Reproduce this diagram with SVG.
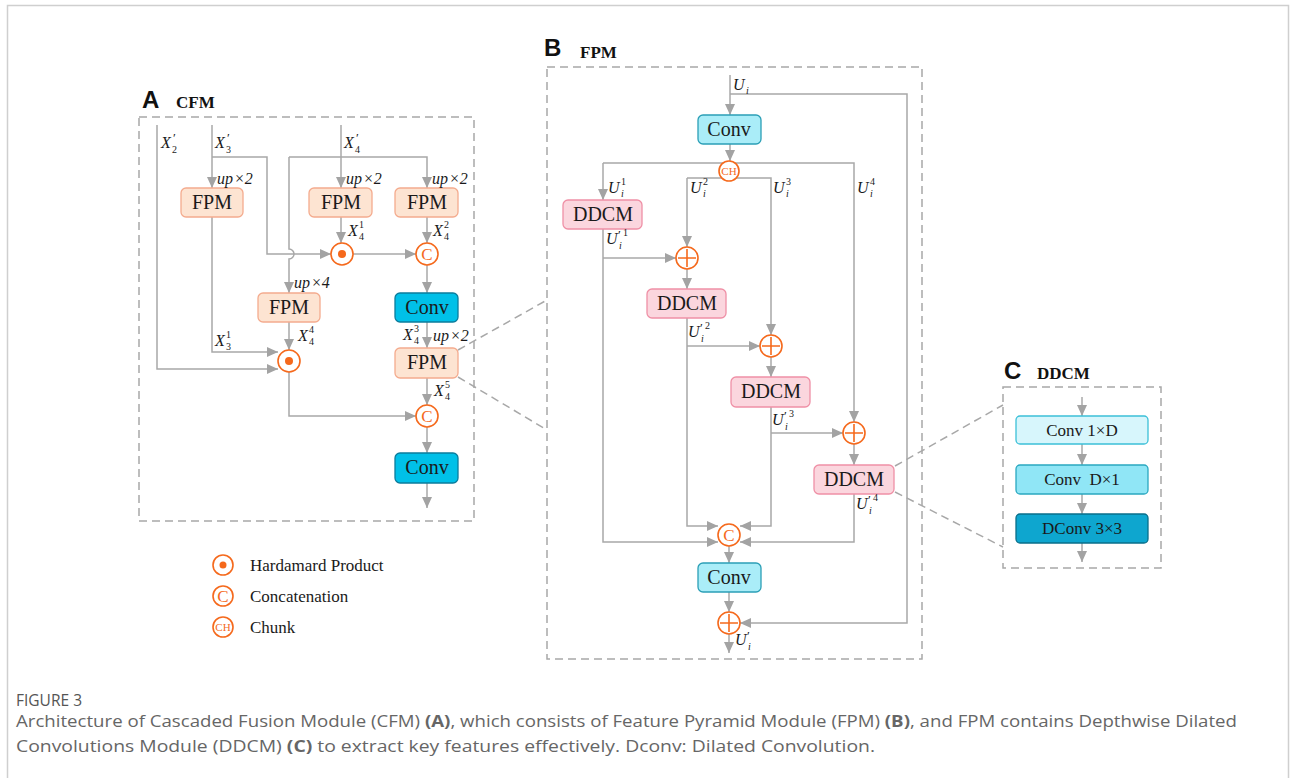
<svg xmlns="http://www.w3.org/2000/svg" width="1293" height="778" viewBox="0 0 1293 778">
<defs>
<marker id="ar" markerUnits="userSpaceOnUse" markerWidth="11" markerHeight="10" refX="11" refY="5" orient="auto"><path d="M0,0 L11,5 L0,10 z" fill="#a3a3a3"/></marker>
<style>
.ln{fill:none;stroke:#a8a8a8;stroke-width:1.5}
.a{marker-end:url(#ar)}
.dash{fill:none;stroke:#a8a8a8;stroke-width:1.5;stroke-dasharray:8 5}
.fpm{fill:#fde4d2;stroke:#f4ab8e;stroke-width:1.3}
.convA{fill:#00c0e8;stroke:#0b7c9c;stroke-width:1.3}
.convB{fill:#aaedf8;stroke:#2b9fb6;stroke-width:1.3}
.ddcm{fill:#fbd6de;stroke:#ef90a6;stroke-width:1.3}
.c1{fill:#d7f6fc;stroke:#3cc0d8;stroke-width:1.3}
.c2{fill:#90e6f6;stroke:#2aa8c0;stroke-width:1.3}
.c3{fill:#0ea6cf;stroke:#0a6f8a;stroke-width:1.3}
.op{fill:#fff;stroke:#f5691c;stroke-width:1.6}
.opl{stroke:#f5691c;stroke-width:1.6}
.t{font-family:"Liberation Serif",serif;font-size:20px;fill:#1a1a1a;text-anchor:middle}
.tc{font-family:"Liberation Serif",serif;font-size:17px;fill:#1a1a1a;text-anchor:middle}
.m{font-family:"Liberation Serif",serif;font-size:16px;font-style:italic;fill:#1a1a1a}
.s{font-size:10px;font-style:normal}
.si{font-size:10px;font-style:italic}
.p{font-size:13px;font-style:normal}
.u{font-family:"Liberation Serif",serif;font-size:16px;fill:#1a1a1a}
.oc{font-family:"Liberation Serif",serif;font-size:17px;fill:#f5691c;text-anchor:middle}
.och{font-family:"Liberation Serif",serif;font-size:11px;fill:#f5691c;text-anchor:middle}
.big{font-family:"Liberation Sans",sans-serif;font-weight:bold;font-size:24px;fill:#111}
.ttl{font-family:"Liberation Serif",serif;font-weight:bold;font-size:17px;fill:#111}
.leg{font-family:"Liberation Serif",serif;font-size:17px;fill:#1a1a1a}
.cap{font-family:"Open Sans",sans-serif;font-size:15.5px;fill:#666}
</style>
</defs>
<rect x="7.5" y="5.5" width="1281" height="800" fill="#fff" stroke="#cfcfcf" stroke-width="1.5"/>

<g id="panelA">
<text class="big" x="142" y="108">A</text>
<text class="ttl" x="176" y="108">CFM</text>
<rect class="dash" x="139" y="117" width="335" height="404"/>
</g>
<g id="panelB">
<text class="big" x="544" y="56">B</text>
<text class="ttl" x="580" y="58">FPM</text>
<rect class="dash" x="547" y="67" width="375" height="592"/>
</g>
<g id="panelC">
<text class="big" x="1004" y="379">C</text>
<text class="ttl" x="1037" y="379">DDCM</text>
<rect class="dash" x="1003" y="387" width="158" height="181"/>
</g>

<g id="connectors">
<path class="ln a" d="M157 125 V369 H278"/>
<path class="ln a" d="M212 125 V188"/>
<path class="ln a" d="M212 157 H267 V254 H331"/>
<path class="ln a" d="M212 217 V352 H278"/>
<path class="ln a" d="M341 125 V188"/>
<path class="ln a" d="M289 157 H427 V188"/>
<path class="ln a" d="M289 157 V249 A5 5 0 0 1 289 259 V293"/>
<path class="ln a" d="M341 217 V243"/>
<path class="ln a" d="M353 254 H416"/>
<path class="ln a" d="M427 217 V243"/>
<path class="ln a" d="M427 265 V293"/>
<path class="ln a" d="M427 322 V348"/>
<path class="ln a" d="M427 378 V405"/>
<path class="ln a" d="M289 322 V350"/>
<path class="ln a" d="M289 372 V416 H416"/>
<path class="ln a" d="M427 427 V453"/>
<path class="ln a" d="M427 483 V508"/>
<path class="dash" d="M458 350 L547 300"/>
<path class="dash" d="M458 377 L547 430"/>
<path class="dash" d="M895 466 L1003 405"/>
<path class="dash" d="M895 492 L1003 547"/>
<path class="ln a" d="M730 75 V115"/>
<path class="ln a" d="M730 94 H907 V623 H740"/>
<path class="ln a" d="M730 144 V161"/>
<path class="ln a" d="M603 163 H854 V422"/>
<path class="ln a" d="M603 163 V200"/>
<path class="ln a" d="M687 178 H771 V335"/>
<path class="ln a" d="M687 178 V247"/>
<path class="ln a" d="M603 229 V542 H718"/>
<path class="ln a" d="M603 258 H676"/>
<path class="ln a" d="M687 269 V289"/>
<path class="ln a" d="M687 318 V526 H718"/>
<path class="ln a" d="M687 346 H760"/>
<path class="ln a" d="M771 357 V377"/>
<path class="ln a" d="M771 407 V526 H740"/>
<path class="ln a" d="M771 433 H843"/>
<path class="ln a" d="M854 444 V465"/>
<path class="ln a" d="M854 494 V542 H740"/>
<path class="ln a" d="M729 546 V563"/>
<path class="ln a" d="M729 592 V612"/>
<path class="ln a" d="M729 634 V653"/>
<path class="ln a" d="M1082 397 V416"/>
<path class="ln a" d="M1082 444 V465"/>
<path class="ln a" d="M1082 494 V514"/>
<path class="ln a" d="M1082 543 V562"/>
</g>

<g id="fpm1"><rect class="fpm" x="181" y="188" width="62" height="29" rx="5"/><text class="t" x="212" y="209">FPM</text></g>
<g id="fpm2"><rect class="fpm" x="309" y="188" width="63" height="29" rx="5"/><text class="t" x="341" y="209">FPM</text></g>
<g id="fpm3"><rect class="fpm" x="395" y="188" width="63" height="29" rx="5"/><text class="t" x="427" y="209">FPM</text></g>
<g id="fpm4"><rect class="fpm" x="258" y="293" width="62" height="29" rx="5"/><text class="t" x="289" y="314">FPM</text></g>
<g id="fpm5"><rect class="fpm" x="395" y="348" width="63" height="30" rx="5"/><text class="t" x="427" y="369">FPM</text></g>
<g id="convA1"><rect class="convA" x="395" y="293" width="63" height="29" rx="5"/><text class="t" x="427" y="314">Conv</text></g>
<g id="convA2"><rect class="convA" x="395" y="453" width="63" height="30" rx="5"/><text class="t" x="427" y="474">Conv</text></g>
<g id="hadA1"><circle class="op" cx="342" cy="254" r="11"/><circle cx="342" cy="254" r="4" fill="#f5691c"/></g>
<g id="hadA2"><circle class="op" cx="289" cy="361" r="11"/><circle cx="289" cy="361" r="4" fill="#f5691c"/></g>
<g id="catA1"><circle class="op" cx="427" cy="254" r="11"/><text class="oc" x="427" y="260">C</text></g>
<g id="catA2"><circle class="op" cx="427" cy="416" r="11"/><text class="oc" x="427" y="422">C</text></g>

<g id="labelsA">
<text class="m" x="161" y="148">X<tspan class="p" x="173" y="142">′</tspan><tspan class="s" x="172" y="153">2</tspan></text>
<text class="m" x="215" y="148">X<tspan class="p" x="227" y="142">′</tspan><tspan class="s" x="226" y="153">3</tspan></text>
<text class="m" x="344" y="148">X<tspan class="p" x="356" y="142">′</tspan><tspan class="s" x="355" y="153">4</tspan></text>
<text class="m" x="217" y="184">up<tspan class="u" dx="1">×2</tspan></text>
<text class="m" x="346" y="184">up<tspan class="u" dx="1">×2</tspan></text>
<text class="m" x="432" y="184">up<tspan class="u" dx="1">×2</tspan></text>
<text class="m" x="348" y="236">X<tspan class="s" x="359" y="228">1</tspan><tspan class="s" x="359" y="240">4</tspan></text>
<text class="m" x="433" y="236">X<tspan class="s" x="444" y="228">2</tspan><tspan class="s" x="444" y="240">4</tspan></text>
<text class="m" x="294" y="288">up<tspan class="u" dx="1">×4</tspan></text>
<text class="m" x="298" y="341">X<tspan class="s" x="309" y="333">4</tspan><tspan class="s" x="309" y="345">4</tspan></text>
<text class="m" x="215" y="346">X<tspan class="s" x="226" y="338">1</tspan><tspan class="s" x="226" y="350">3</tspan></text>
<text class="m" x="403" y="340">X<tspan class="s" x="414" y="332">3</tspan><tspan class="s" x="414" y="344">4</tspan></text>
<text class="m" x="433" y="341">up<tspan class="u" dx="1">×2</tspan></text>
<text class="m" x="434" y="396">X<tspan class="s" x="445" y="388">5</tspan><tspan class="s" x="445" y="400">4</tspan></text>
</g>

<g id="convB1"><rect class="convB" x="698" y="115" width="63" height="29" rx="5"/><text class="t" x="729" y="136">Conv</text></g>
<g id="chunk"><circle class="op" cx="729" cy="171" r="10"/><text class="och" x="729" y="175">CH</text></g>
<g id="ddcm1"><rect class="ddcm" x="563" y="200" width="79" height="29" rx="5"/><text class="t" x="603" y="221">DDCM</text></g>
<g id="ddcm2"><rect class="ddcm" x="647" y="289" width="79" height="29" rx="5"/><text class="t" x="687" y="310">DDCM</text></g>
<g id="ddcm3"><rect class="ddcm" x="731" y="377" width="79" height="30" rx="5"/><text class="t" x="771" y="398">DDCM</text></g>
<g id="ddcm4"><rect class="ddcm" x="814" y="465" width="80" height="29" rx="5"/><text class="t" x="854" y="486">DDCM</text></g>
<g id="add1"><circle class="op" cx="687" cy="258" r="11"/><path class="opl" d="M678 258 H696 M687 249 V267"/></g>
<g id="add2"><circle class="op" cx="771" cy="346" r="11"/><path class="opl" d="M762 346 H780 M771 337 V355"/></g>
<g id="add3"><circle class="op" cx="854" cy="433" r="11"/><path class="opl" d="M845 433 H863 M854 424 V442"/></g>
<g id="catB"><circle class="op" cx="729" cy="535" r="11"/><text class="oc" x="729" y="541">C</text></g>
<g id="convB2"><rect class="convB" x="698" y="563" width="63" height="29" rx="5"/><text class="t" x="729" y="584">Conv</text></g>
<g id="addOut"><circle class="op" cx="729" cy="623" r="11"/><path class="opl" d="M720 623 H738 M729 614 V632"/></g>

<g id="labelsB">
<text class="m" x="733" y="90">U<tspan class="si" x="746" y="94">i</tspan></text>
<text class="m" x="608" y="193">U<tspan class="s" x="621" y="185">1</tspan><tspan class="si" x="621" y="197">i</tspan></text>
<text class="m" x="690" y="193">U<tspan class="s" x="703" y="185">2</tspan><tspan class="si" x="703" y="197">i</tspan></text>
<text class="m" x="773" y="193">U<tspan class="s" x="786" y="185">3</tspan><tspan class="si" x="786" y="197">i</tspan></text>
<text class="m" x="857" y="193">U<tspan class="s" x="870" y="185">4</tspan><tspan class="si" x="870" y="197">i</tspan></text>
<text class="m" x="606" y="244">U<tspan class="p" x="618" y="239">′</tspan><tspan class="s" x="623" y="236">1</tspan><tspan class="si" x="619" y="249">i</tspan></text>
<text class="m" x="688" y="337">U<tspan class="p" x="700" y="332">′</tspan><tspan class="s" x="705" y="329">2</tspan><tspan class="si" x="701" y="342">i</tspan></text>
<text class="m" x="772" y="425">U<tspan class="p" x="784" y="420">′</tspan><tspan class="s" x="789" y="417">3</tspan><tspan class="si" x="785" y="430">i</tspan></text>
<text class="m" x="856" y="509">U<tspan class="p" x="868" y="504">′</tspan><tspan class="s" x="873" y="501">4</tspan><tspan class="si" x="869" y="514">i</tspan></text>
<text class="m" x="735" y="645">U<tspan class="p" x="747" y="640">′</tspan><tspan class="si" x="748" y="650">i</tspan></text>
</g>

<g id="conv1xD"><rect class="c1" x="1016" y="416" width="132" height="28" rx="4"/><text class="tc" x="1082" y="436">Conv 1×D</text></g>
<g id="convDx1"><rect class="c2" x="1016" y="465" width="132" height="29" rx="4"/><text class="tc" x="1082" y="485" xml:space="preserve">Conv  D×1</text></g>
<g id="dconv"><rect class="c3" x="1016" y="514" width="132" height="29" rx="4"/><text class="tc" x="1082" y="534">DConv 3×3</text></g>

<g id="legend">
<circle class="op" cx="223" cy="565" r="10"/><circle cx="223" cy="565" r="3.5" fill="#f5691c"/>
<text class="leg" x="250" y="571">Hardamard Product</text>
<circle class="op" cx="223" cy="596" r="10"/><text class="oc" x="223" y="602">C</text>
<text class="leg" x="250" y="602">Concatenation</text>
<circle class="op" cx="223" cy="627" r="10"/><text class="och" x="223" y="631">CH</text>
<text class="leg" x="250" y="633">Chunk</text>
</g>

<g id="caption">
<text class="cap" x="16" y="706" textLength="66" lengthAdjust="spacingAndGlyphs" style="font-size:17px;fill:#555">FIGURE 3</text>
<text class="cap" x="16" y="727" textLength="1221" lengthAdjust="spacingAndGlyphs">Architecture of Cascaded Fusion Module (CFM) <tspan font-weight="bold">(A)</tspan>, which consists of Feature Pyramid Module (FPM) <tspan font-weight="bold">(B)</tspan>, and FPM contains Depthwise Dilated</text>
<text class="cap" x="16" y="752" textLength="859" lengthAdjust="spacingAndGlyphs">Convolutions Module (DDCM) <tspan font-weight="bold">(C)</tspan> to extract key features effectively. Dconv: Dilated Convolution.</text>
</g>
</svg>
